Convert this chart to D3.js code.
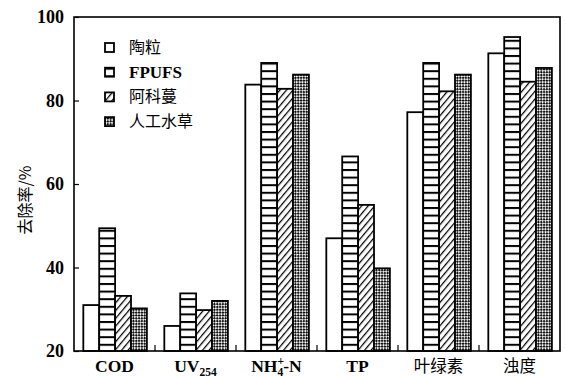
<!DOCTYPE html>
<html>
<head>
<meta charset="utf-8">
<script src="https://cdn.jsdelivr.net/npm/d3@7"></script>
<style>
  html, body { margin: 0; padding: 0; background: #fff; }
  svg { display: block; }
</style>
</head>
<body>
<svg id="chart" width="566" height="377"></svg>
<script>
// Removal rate (%) of each water-quality index for four carrier materials
const categories = ["COD", "UV254", "NH4-N", "TP", "叶绿素", "浊度"];
const seriesNames = ["陶粒", "FPUFS", "阿科蔓", "人工水草"];
const taoli   = [31.0, 26.0, 83.8, 47.0, 77.2, 91.3];
const fpufs   = [49.4, 33.8, 89.0, 66.6, 89.0, 95.2];
const akeman  = [33.2, 29.8, 82.8, 55.0, 82.2, 84.5];
const shuicao = [30.2, 32.0, 86.2, 39.8, 86.2, 87.8];
const seriesValues = [taoli, fpufs, akeman, shuicao];
const yTicks = [20, 40, 60, 80, 100];

const svg = d3.select("#chart");
const margin = { left: 74, right: 6, top: 17, bottom: 26 };
const W = 566, H = 377;
const plotW = W - margin.left - margin.right;
const plotH = H - margin.top - margin.bottom;

const latin = "'Liberation Serif', 'Times New Roman', serif";
const cjk = "'Noto Sans CJK SC', 'Noto Sans', sans-serif";

// Fill patterns for the four series
const defs = svg.append("defs");
const fills = ["#fff", "url(#pHoriz)", "url(#pDiag)", "url(#pCheck)"];

const ph = defs.append("pattern").attr("id", "pHoriz")
  .attr("patternUnits", "userSpaceOnUse").attr("width", 8).attr("height", 7.6);
ph.append("rect").attr("width", 8).attr("height", 7.6).attr("fill", "#fff");
ph.append("rect").attr("x", 0).attr("y", 0).attr("width", 8).attr("height", 2).attr("fill", "#000");

const pd = defs.append("pattern").attr("id", "pDiag")
  .attr("patternUnits", "userSpaceOnUse").attr("width", 5).attr("height", 5)
  .attr("patternTransform", "rotate(40)");
pd.append("rect").attr("width", 5).attr("height", 5).attr("fill", "#fff");
pd.append("line").attr("x1", 0.6).attr("y1", 0).attr("x2", 0.6).attr("y2", 5)
  .attr("stroke", "#000").attr("stroke-width", 1.3);

const pc = defs.append("pattern").attr("id", "pCheck")
  .attr("patternUnits", "userSpaceOnUse").attr("width", 4).attr("height", 4)
  .attr("patternTransform", "rotate(45)");
pc.append("rect").attr("width", 4).attr("height", 4).attr("fill", "#fff");
pc.append("rect").attr("x", 0).attr("y", 0).attr("width", 2.2).attr("height", 2.2).attr("fill", "#111");
pc.append("rect").attr("x", 2).attr("y", 2).attr("width", 2.2).attr("height", 2.2).attr("fill", "#111");

const g = svg.append("g").attr("transform", `translate(${margin.left},${margin.top})`);

const x0 = d3.scaleBand().domain(categories).range([0, plotW]).padding(0);
const bw = x0.bandwidth();
const x1 = d3.scaleBand().domain(seriesNames).range([bw * 0.115, bw * 0.9]).padding(0);
const y = d3.scaleLinear().domain([20, 100]).range([plotH, 0]);

// Bars
const groups = g.selectAll("g.grp").data(categories).join("g")
  .attr("class", "grp")
  .attr("transform", d => `translate(${x0(d)},0)`);

groups.selectAll("rect")
  .data((c, ci) => seriesNames.map((s, si) => ({ s, si, v: seriesValues[si][ci] })))
  .join("rect")
  .attr("x", d => x1(d.s))
  .attr("width", x1.bandwidth())
  .attr("y", d => y(d.v))
  .attr("height", d => plotH - y(d.v))
  .attr("fill", d => fills[d.si])
  .attr("stroke", "#000")
  .attr("stroke-width", 1.8);

// Frame
g.append("rect").attr("x", 0).attr("y", 0).attr("width", plotW).attr("height", plotH)
  .attr("fill", "none").attr("stroke", "#000").attr("stroke-width", 1.6);

// Y axis with inward ticks
const yAxis = g.append("g").call(
  d3.axisLeft(y).tickValues(yTicks).tickSize(-5).tickPadding(10).tickFormat(d3.format("d"))
);
yAxis.select(".domain").remove();
yAxis.selectAll(".tick line").attr("stroke", "#000").attr("stroke-width", 1.2);
yAxis.selectAll(".tick text")
  .attr("font-family", latin).attr("font-weight", "bold").attr("font-size", 18).attr("fill", "#000");

// Category separators on the x axis, pointing up
const seps = categories.slice(1).map(c => x0(c));
g.selectAll("line.sep").data(seps).join("line").attr("class", "sep")
  .attr("x1", d => d).attr("x2", d => d)
  .attr("y1", plotH).attr("y2", plotH - 6)
  .attr("stroke", "#000").attr("stroke-width", 1.2);

// X category labels
const labelY = plotH + 21;
const xl = g.append("g");
categories.forEach((c, i) => {
  const cx = x0(c) + bw / 2;
  const t = xl.append("text").attr("x", cx).attr("y", labelY)
    .attr("text-anchor", "middle").attr("fill", "#000").attr("font-size", 17.5);
  if (c === "UV254") {
    t.attr("font-family", latin).attr("font-weight", "bold");
    t.append("tspan").text("UV");
    t.append("tspan").attr("dy", 3.5).attr("font-size", 11.5).text("254");
  } else if (c === "NH4-N") {
    t.attr("font-family", latin).attr("font-weight", "bold");
    t.append("tspan").text("NH");
    t.append("tspan").attr("dy", -7).attr("font-size", 11.5).text("+");
    t.append("tspan").attr("dx", -6.5).attr("dy", 10.5).attr("font-size", 11.5).text("4");
    t.append("tspan").attr("dy", -3.5).text("-N");
  } else if (c === "叶绿素" || c === "浊度") {
    t.attr("font-family", cjk).attr("font-size", 16.5).text(c);
  } else {
    t.attr("font-family", latin).attr("font-weight", "bold").text(c);
  }
});

// Y axis title
svg.append("text")
  .attr("transform", "translate(31,200) rotate(-90)")
  .attr("text-anchor", "middle")
  .attr("font-family", cjk).attr("font-size", 16).attr("fill", "#000")
  .text("去除率/%");

// Legend
const leg = svg.append("g").attr("transform", "translate(105,43)");
seriesNames.forEach((s, i) => {
  const row = leg.append("g").attr("transform", `translate(0,${i * 24.7})`);
  row.append("rect").attr("x", 0).attr("y", 0).attr("width", 9).attr("height", 9)
    .attr("fill", fills[i]).attr("stroke", "#000").attr("stroke-width", 1.8);
  row.append("text").attr("x", 24).attr("y", 10)
    .attr("font-family", s === "FPUFS" ? latin : cjk)
    .attr("font-weight", s === "FPUFS" ? "bold" : "normal")
    .attr("font-size", s === "FPUFS" ? 17 : 16).attr("fill", "#000")
    .text(s);
});
</script>
</body>
</html>
